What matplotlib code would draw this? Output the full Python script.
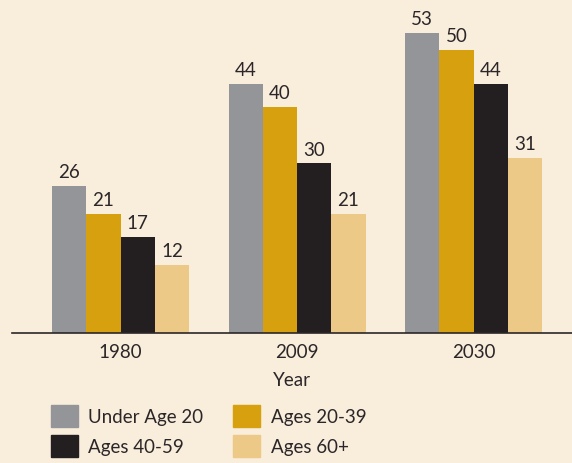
import matplotlib.pyplot as plt
import matplotlib.patches as mpatches
import numpy as np

# Data
years = ['1980', '2009', '2030']
groups = ['Under Age 20', 'Ages 20-39', 'Ages 40-59', 'Ages 60+']
under20 = [26, 44, 53]
ages20_39 = [21, 40, 50]
ages40_59 = [17, 30, 44]
ages60 = [12, 21, 31]

colors = ['#939598', '#D6A00F', '#231F20', '#ECC987']
bg = '#F9EDDC'
txt = '#2B2628'

plt.rcParams['font.family'] = ['Lato', 'DejaVu Sans']

fig = plt.figure(figsize=(5.72, 4.64), dpi=100, facecolor=bg)
ax = fig.add_axes([12 / 572, 130 / 464, 560 / 572, 334 / 464])
ax.set_facecolor(bg)

x = np.arange(len(years))
w = 0.194
series = [under20, ages20_39, ages40_59, ages60]
for i, (vals, c) in enumerate(zip(series, colors)):
    pos = x + (i - 1.5) * w
    ax.bar(pos, vals, width=w, color=c, label=groups[i])
    for p, v in zip(pos, vals):
        ax.text(p, v + 1.0, str(v), ha='center', va='bottom', fontsize=13.5, color=txt)

ax.set_xlim(-0.615, 2.558)
ax.set_ylim(0, 59.0)
for s in ['top', 'right', 'left']:
    ax.spines[s].set_visible(False)
ax.spines['bottom'].set_color(txt)
ax.spines['bottom'].set_linewidth(1.2)
ax.set_yticks([])
ax.set_xticks(x)
ax.set_xticklabels(years, fontsize=13.5, color=txt)
ax.tick_params(axis='x', length=0, pad=7)
ax.set_xlabel('Year', fontsize=13.5, color=txt, labelpad=8)

# legend fills column-wise, reorder so rows read left to right
order = [0, 2, 1, 3]
handles = [mpatches.Patch(color=colors[i]) for i in order]
labels = [groups[i] for i in order]
fig.legend(handles, labels, loc='upper left', bbox_to_anchor=(45 / 572, 1 - 400 / 464),
           ncol=2, frameon=False, fontsize=13.5, handlelength=1.45, handleheight=1.45,
           handletextpad=0.55, columnspacing=1.6, labelspacing=0.42, labelcolor=txt,
           borderaxespad=0, borderpad=0.3)

fig.savefig('out.png', dpi=100, facecolor=bg)
